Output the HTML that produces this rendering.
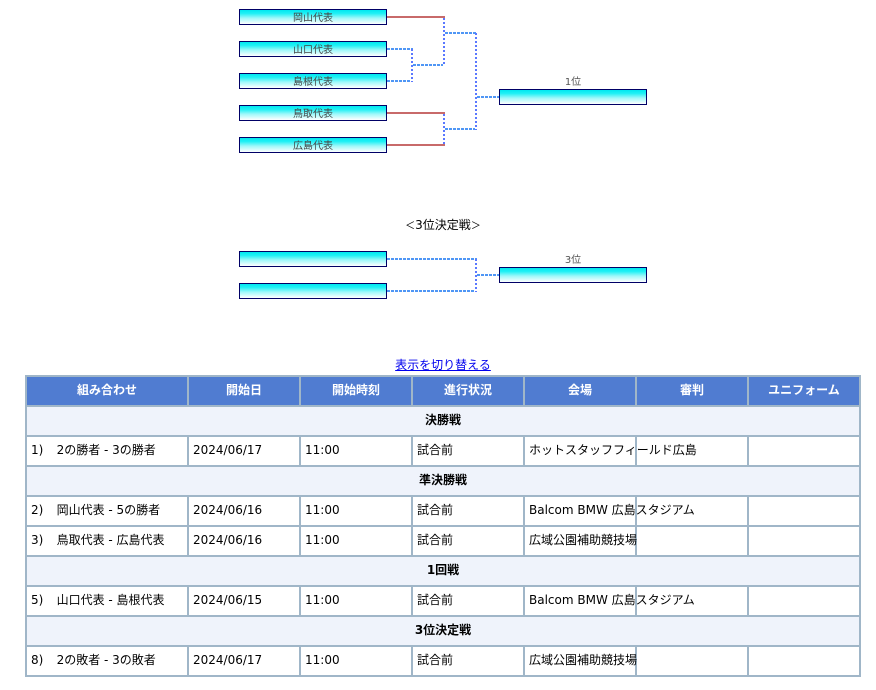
<!DOCTYPE html>
<html lang="ja">
<head>
<meta charset="utf-8">
<title>Tournament</title>
<style>
html,body{margin:0;padding:0;background:#fff;width:876px;height:690px;overflow:hidden}
body{position:relative;font-family:"DejaVu Sans","Noto Sans CJK JP",sans-serif;font-size:12px;color:#000}
.b{position:absolute;box-sizing:border-box;width:148px;height:16px;border:1px solid #000066;background:linear-gradient(#00e8f0 0%,#20f0f5 25%,#a0f8fa 58%,#ffffff 100%);font-size:10px;line-height:17px;text-align:center;color:#444}
.r{position:absolute;background:#c86a6a;height:2px}
.h{position:absolute;height:2px;background:repeating-linear-gradient(90deg,#4f96f5 0,#4f96f5 3px,#ffffff 3px,#ffffff 4px)}
.v{position:absolute;width:2px;background:repeating-linear-gradient(180deg,#5a78ff 0,#5a78ff 2px,#ffffff 2px,#ffffff 4px)}
.t{position:absolute;text-align:center;white-space:nowrap}
.l{font-size:10px;color:#555;line-height:12px}
table{position:absolute;left:25px;top:375px;width:836px;height:302px;border-collapse:collapse;table-layout:fixed}
th,td{border:2px solid #a0b6c8;height:28px;padding:0 0 2px 4px;box-sizing:border-box;white-space:nowrap;overflow:visible;font-weight:normal;font-size:12px;line-height:14px;text-align:left}
tr{height:30px}
th{background:#507cd1;color:#fff;font-weight:bold;text-align:center;padding:0 0 2px 0}
td.s{background:#eff3fb;font-weight:bold;text-align:center;padding:0 0 2px 0}
td{background:#fff}
a{color:#0000ee;text-decoration:underline}
.g{letter-spacing:.6px}
.k{font-size:10px}
</style>
</head>
<body>
<div class="b" style="left:239px;top:9px">岡山代表</div>
<div class="b" style="left:239px;top:41px">山口代表</div>
<div class="b" style="left:239px;top:73px">島根代表</div>
<div class="b" style="left:239px;top:105px">鳥取代表</div>
<div class="b" style="left:239px;top:137px">広島代表</div>
<div class="b" style="left:499px;top:89px"></div>
<div class="t l" style="left:499px;top:77px;width:148px">1位</div>

<div class="r" style="left:387px;top:16px;width:58px"></div>
<div class="r" style="left:387px;top:112px;width:58px"></div>
<div class="r" style="left:387px;top:144px;width:58px"></div>
<div class="h" style="left:387px;top:48px;width:26px"></div>
<div class="h" style="left:387px;top:80px;width:26px"></div>
<div class="v" style="left:411px;top:49px;height:33px"></div>
<div class="h" style="left:413px;top:64px;width:32px"></div>
<div class="v" style="left:443px;top:18px;height:48px"></div>
<div class="v" style="left:443px;top:114px;height:30px"></div>
<div class="h" style="left:445px;top:32px;width:32px"></div>
<div class="h" style="left:445px;top:128px;width:32px"></div>
<div class="v" style="left:475px;top:33px;height:97px"></div>
<div class="h" style="left:477px;top:96px;width:22px"></div>

<div class="t" style="left:239px;top:218px;width:408px;line-height:15px"><span class="k">＜</span>3位決定戦<span class="k">＞</span></div>
<div class="b" style="left:239px;top:251px"></div>
<div class="b" style="left:239px;top:283px"></div>
<div class="b" style="left:499px;top:267px"></div>
<div class="t l" style="left:499px;top:255px;width:148px">3位</div>
<div class="h" style="left:387px;top:258px;width:90px"></div>
<div class="h" style="left:387px;top:290px;width:90px"></div>
<div class="v" style="left:475px;top:259px;height:33px"></div>
<div class="h" style="left:477px;top:274px;width:22px"></div>

<div class="t" style="left:25px;top:358px;width:836px;line-height:15px"><a>表示を切り替える</a></div>

<table>
<colgroup><col style="width:162px"><col style="width:112px"><col style="width:112px"><col style="width:112px"><col style="width:112px"><col style="width:112px"><col style="width:112px"></colgroup>
<tr><th>組み合わせ</th><th>開始日</th><th>開始時刻</th><th>進行状況</th><th>会場</th><th>審判</th><th>ユニフォーム</th></tr>
<tr><td class="s" colspan="7">決勝戦</td></tr>
<tr><td>1)<span class="g">&nbsp;&nbsp;&nbsp;</span>2の勝者 - 3の勝者</td><td>2024/06/17</td><td>11:00</td><td>試合前</td><td>ホットスタッフフィールド広島</td><td></td><td></td></tr>
<tr><td class="s" colspan="7">準決勝戦</td></tr>
<tr><td>2)<span class="g">&nbsp;&nbsp;&nbsp;</span>岡山代表 - 5の勝者</td><td>2024/06/16</td><td>11:00</td><td>試合前</td><td>Balcom BMW 広島スタジアム</td><td></td><td></td></tr>
<tr><td>3)<span class="g">&nbsp;&nbsp;&nbsp;</span>鳥取代表 - 広島代表</td><td>2024/06/16</td><td>11:00</td><td>試合前</td><td>広域公園補助競技場</td><td></td><td></td></tr>
<tr><td class="s" colspan="7">1回戦</td></tr>
<tr><td>5)<span class="g">&nbsp;&nbsp;&nbsp;</span>山口代表 - 島根代表</td><td>2024/06/15</td><td>11:00</td><td>試合前</td><td>Balcom BMW 広島スタジアム</td><td></td><td></td></tr>
<tr><td class="s" colspan="7">3位決定戦</td></tr>
<tr><td>8)<span class="g">&nbsp;&nbsp;&nbsp;</span>2の敗者 - 3の敗者</td><td>2024/06/17</td><td>11:00</td><td>試合前</td><td>広域公園補助競技場</td><td></td><td></td></tr>
</table>
</body>
</html>
